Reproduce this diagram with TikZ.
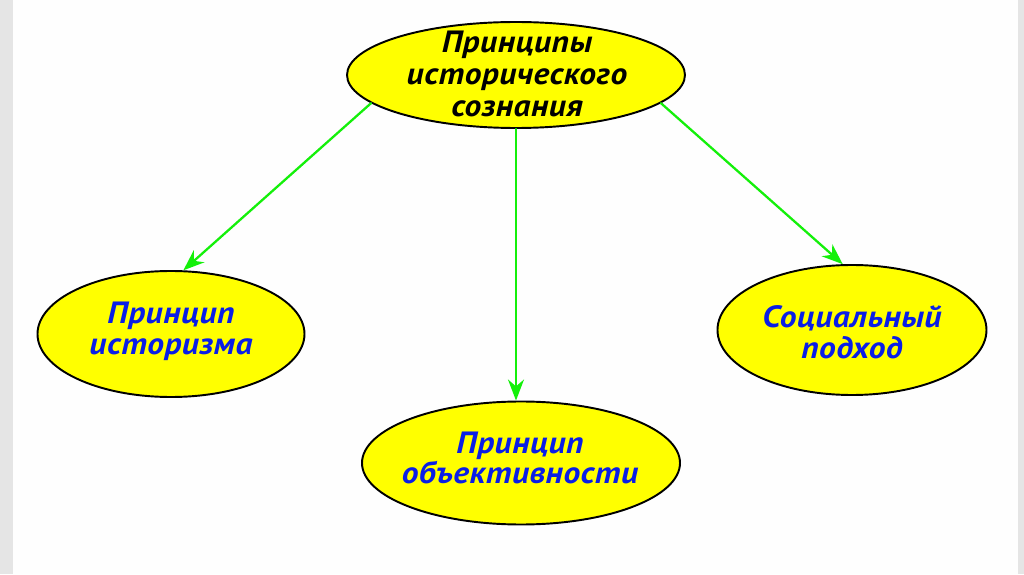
\documentclass[tikz,border=0pt]{standalone}
\usepackage{fontspec}
\setmainfont{PT Sans}[FakeStretch=1.09, LetterSpace=1.5]
\usepackage{tikz}
\usetikzlibrary{arrows.meta}
\usetikzlibrary{shapes,positioning}
\definecolor{ovalyellow}{RGB}{255,255,0}
\definecolor{arrowgreen}{RGB}{20,240,10}
\definecolor{textblue}{RGB}{10,30,230}
\definecolor{stripgray}{RGB}{229,229,229}
\tikzset{>={Stealth[length=4.2mm,width=3.2mm]},
  oval/.style={ellipse, draw=black, line width=1.1pt, fill=ovalyellow},
  ovaltext/.style={align=center, font=\fontsize{17.5pt}{17.5pt}\selectfont\bfseries\itshape},
  link/.style={->, draw=arrowgreen, line width=1.3pt}}

\begin{document}
\begin{tikzpicture}[line cap=round]

    \useasboundingbox (0,0) rectangle (20.48,11.48);
    \fill [white!99.5!black] (0,0) rectangle (20.48,11.48);
    \fill [stripgray] (0,0) rectangle (0.26,11.48);
    \fill [stripgray] (20.36,0) rectangle (20.48,11.48);

	\node [oval, minimum width=6.76cm, minimum height=2.12cm] (top) at (10.32,9.98) {};
	\node [oval, minimum width=5.34cm, minimum height=2.52cm] (left) at (3.42,4.80) {};
	\node [oval, minimum width=5.38cm, minimum height=2.60cm] (right) at (17.04,4.88) {};
	\node [oval, minimum width=6.36cm, minimum height=2.46cm] (mid) at (10.42,2.22) {};

	\node [ovaltext, text=black, font=\fontsize{17.5pt}{18.2pt}\selectfont\bfseries\itshape] (toptext) at (10.34,10.00) {Принципы\\исторического\\сознания};
	\node [ovaltext, text=textblue] (lefttext) at (3.42,4.86) {Принцип\\историзма};
	\node [ovaltext, text=textblue] (righttext) at (17.04,4.84) {Социальный\\подход};
	\node [ovaltext, text=textblue] (midtext) at (10.40,2.32) {Принцип\\объективности};

	\draw [link] (top.191) -- (left.79);
	\draw [link] (top.south) -- (top.south |- mid.north);
	\draw [link] (top.-11) -- (right.98);

\end{tikzpicture}
\end{document}
